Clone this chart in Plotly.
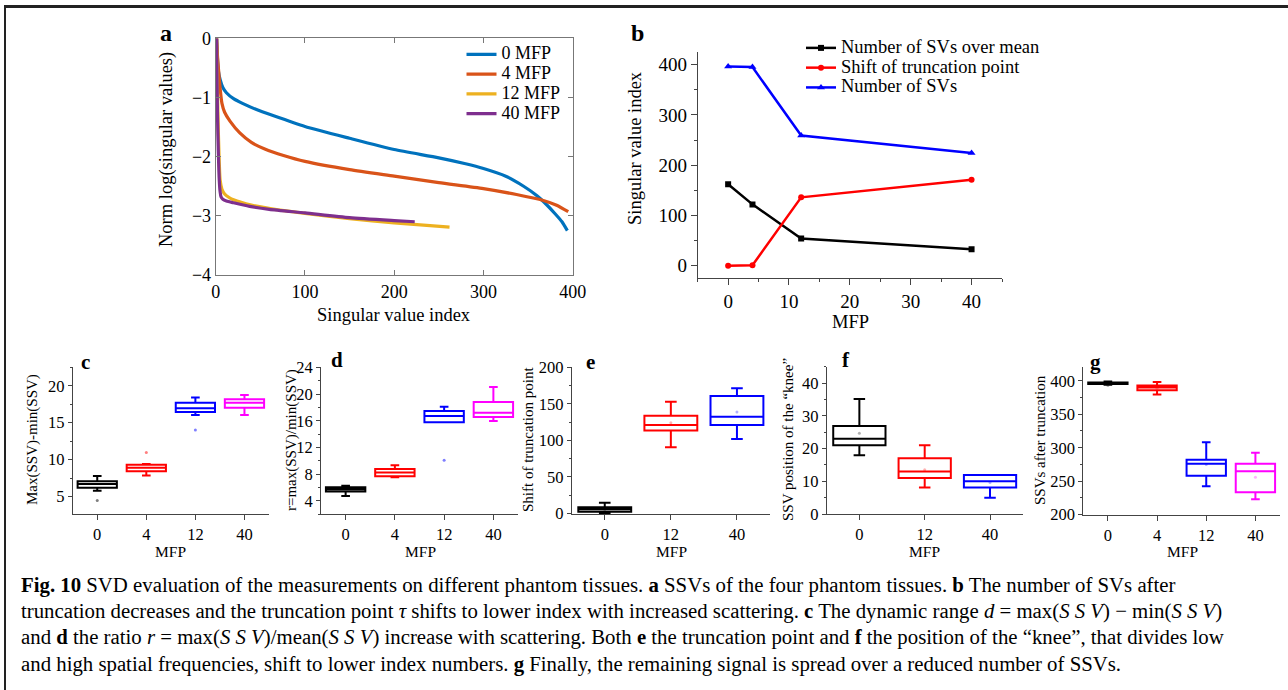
import plotly.graph_objects as go

W, H = 1288, 690
def PX(x): return x / W
def PY(y): return 1 - y / H

FONT = "Liberation Serif"

# ---------------- Panel a data ----------------
a_series = ["0 MFP", "4 MFP", "12 MFP", "40 MFP"]
a_colors = ["#0072BD", "#D95319", "#EDB120", "#7E2F8E"]
a_x0 = [1, 2, 3, 5, 8, 12, 20, 30, 45, 65, 100, 150, 200, 250, 280, 300, 325, 345, 360, 370, 380, 388, 394]
a_y0 = [0, -0.35, -0.55, -0.7, -0.83, -0.92, -1.02, -1.1, -1.2, -1.31, -1.49, -1.69, -1.88, -2.02, -2.12, -2.2, -2.33, -2.5, -2.66, -2.8, -2.96, -3.1, -3.25]
a_x4 = [1, 2, 3, 5, 7, 10, 16, 27, 40, 55, 76, 100, 150, 200, 250, 300, 337, 367, 382, 395]
a_y4 = [0, -0.3, -0.5, -0.85, -1.1, -1.25, -1.4, -1.6, -1.76, -1.87, -1.98, -2.08, -2.22, -2.33, -2.44, -2.54, -2.64, -2.74, -2.82, -2.93]
a_x12 = [1, 2, 3, 4, 5, 7, 10, 15, 20, 40, 70, 100, 150, 200, 262]
a_y12 = [0, -0.9, -1.6, -2.1, -2.4, -2.55, -2.63, -2.69, -2.73, -2.82, -2.9, -2.96, -3.05, -3.12, -3.19]
a_x40 = [1, 2, 3, 4, 5, 6, 8, 12, 20, 38, 60, 100, 150, 200, 223]
a_y40 = [0, -1.3, -1.95, -2.4, -2.6, -2.68, -2.72, -2.75, -2.78, -2.84, -2.89, -2.95, -3.03, -3.08, -3.1]

# ---------------- Panel b data ----------------
b_mfp = [0, 4, 12, 40]
b_over_mean = [162, 122, 54, 33]
b_shift = [0, 1, 136, 171]
b_num_svs = [396, 395, 259, 224]
b_names = ["Number of SVs over mean", "Shift of truncation point", "Number of SVs"]

# ---------------- Box panels data ----------------
c_cats = ["0", "4", "12", "40"]
c_colors = ["black", "#FF0000", "#0000FF", "#FF00FF"]
c_lo = [5.8, 7.84, 16.05, 16.04]
c_q1 = [6.2, 8.43, 16.45, 17.03]
c_med = [6.7, 8.9, 16.95, 17.7]
c_q3 = [7.08, 9.3, 17.7, 18.16]
c_hi = [7.8, 9.42, 18.4, 18.74]
c_out_idx = [0, 1, 2]
c_out_val = [4.46, 10.95, 14.0]

d_cats = ["0", "4", "12", "40"]
d_colors = ["black", "#FF0000", "#0000FF", "#FF00FF"]
d_lo = [4.75, 7.54, 15.77, 15.97]
d_q1 = [5.4, 7.69, 15.77, 16.57]
d_med = [5.75, 8.24, 16.72, 17.2]
d_q3 = [6.05, 8.79, 17.47, 18.8]
d_hi = [6.29, 9.34, 18.1, 21.06]
d_out_idx = [2]
d_out_val = [10.1]

e_cats = ["0", "12", "40"]
e_colors = ["black", "#FF0000", "#0000FF"]
e_lo = [0.0, 90.4, 101.8]
e_q1 = [2.2, 113.6, 120.9]
e_med = [5.5, 120.9, 132.3]
e_q3 = [8.2, 133.6, 160.9]
e_hi = [14.5, 153.0, 171.3]
e_mean = [5.0, 124.0, 139.0]

f_cats = ["0", "12", "40"]
f_colors = ["black", "#FF0000", "#0000FF"]
f_lo = [17.96, 8.06, 5.0]
f_q1 = [21.0, 11.0, 8.06]
f_med = [22.96, 12.96, 10.0]
f_q3 = [26.9, 17.0, 11.9]
f_hi = [35.1, 21.0, 11.9]
f_mean = [24.7, 13.5, 9.6]

g_cats = ["0", "4", "12", "40"]
g_colors = ["black", "#FF0000", "#0000FF", "#FF00FF"]
g_lo = [394, 379.5, 242.5, 223]
g_q1 = [395, 386, 258, 233.5]
g_med = [396, 390, 276, 265]
g_q3 = [397.5, 393, 282, 276]
g_hi = [399, 398, 308, 292.5]
g_mean = [393, 389, 275, 256]

fig = go.Figure()

# ---- Panel a traces
for name, col, xs, ys in zip(a_series, a_colors, [a_x0, a_x4, a_x12, a_x40], [a_y0, a_y4, a_y12, a_y40]):
    fig.add_trace(go.Scatter(x=xs, y=ys, mode="lines", name='<span style="font-size:18px">' + name + '</span>',
                             line=dict(color=col, width=3.2, shape="spline", smoothing=0.6),
                             xaxis="x", yaxis="y", legend="legend"))

# ---- Panel b traces
b_styles = [("black", "square", 6), ("#FF0000", "circle", 6), ("#0000FF", "triangle-up", 7)]
for name, ys, (col, sym, sz) in zip(b_names, [b_over_mean, b_shift, b_num_svs], b_styles):
    fig.add_trace(go.Scatter(x=b_mfp, y=ys, mode="lines+markers", name='<span style="font-size:18.5px">' + name + '</span>',
                             line=dict(color=col, width=2.5), marker=dict(symbol=sym, size=sz, color=col),
                             xaxis="x2", yaxis="y2", legend="legend2"))

def add_boxes(axn, cats, colors, lo, q1, med, q3, hi):
    for i, cat in enumerate(cats):
        fig.add_trace(go.Box(x=[i], lowerfence=[lo[i]], q1=[q1[i]], median=[med[i]], q3=[q3[i]], upperfence=[hi[i]],
                             width=0.8, whiskerwidth=0.22, line=dict(color=colors[i], width=2),
                             fillcolor="rgba(255,255,255,0)", boxpoints=False, name=cat, showlegend=False,
                             xaxis="x" + str(axn), yaxis="y" + str(axn)))

def add_points(axn, idx, vals, colors, size=3, opacity=0.5):
    fig.add_trace(go.Scatter(x=idx, y=vals, mode="markers", showlegend=False,
                             marker=dict(size=size, color=[colors[i] for i in idx], opacity=opacity),
                             xaxis="x" + str(axn), yaxis="y" + str(axn)))

add_boxes(3, c_cats, c_colors, c_lo, c_q1, c_med, c_q3, c_hi)
add_points(3, c_out_idx, c_out_val, c_colors)
add_boxes(4, d_cats, d_colors, d_lo, d_q1, d_med, d_q3, d_hi)
add_points(4, d_out_idx, d_out_val, d_colors)
add_boxes(5, e_cats, e_colors, e_lo, e_q1, e_med, e_q3, e_hi)
add_points(5, list(range(len(e_cats))), e_mean, e_colors, opacity=0.3)
add_boxes(6, f_cats, f_colors, f_lo, f_q1, f_med, f_q3, f_hi)
add_points(6, list(range(len(f_cats))), f_mean, f_colors, opacity=0.3)
add_boxes(7, g_cats, g_colors, g_lo, g_q1, g_med, g_q3, g_hi)
add_points(7, list(range(len(g_cats))), g_mean, g_colors, opacity=0.3)

AX = "#444444"
layout = dict(
    width=W, height=H, margin=dict(l=0, r=0, t=0, b=0, pad=0, autoexpand=False),
    paper_bgcolor="white", plot_bgcolor="white",
    font=dict(family=FONT, color="black", size=16),
    showlegend=True,
)

# Panel a axes
layout["xaxis"] = dict(domain=[PX(215.7), PX(572.7)], range=[0, 400], tickvals=[0, 100, 200, 300, 400],
                       showline=True, linecolor="#777777", linewidth=1, mirror="ticks", ticks="inside", ticklen=5,
                       tickcolor="#777777", showgrid=False, zeroline=False, tickfont=dict(size=18), anchor="y")
layout["yaxis"] = dict(domain=[PY(275), PY(38.3)], range=[-4, 0], tickvals=[0, -1, -2, -3, -4],
                       ticktext=["0", "\u22121", "\u22122", "\u22123", "\u22124"],
                       showline=True, linecolor="#777777", linewidth=1, mirror="ticks", ticks="inside", ticklen=5,
                       tickcolor="#777777", showgrid=False, zeroline=False, tickfont=dict(size=18), anchor="x")

# Panel b axes
layout["xaxis2"] = dict(domain=[PX(697.7), PX(1002)], range=[-5, 45], tickvals=[0, 10, 20, 30, 40],
                        showline=True, linecolor=AX, linewidth=1, ticks="outside", ticklen=6, tickcolor=AX,
                        minor=dict(ticks="outside", ticklen=3, dtick=5, tick0=5, tickcolor=AX),
                        showgrid=False, zeroline=False, tickfont=dict(size=19), anchor="y2")
layout["yaxis2"] = dict(domain=[PY(278.3), PY(52)], range=[-25, 425], tickvals=[0, 100, 200, 300, 400],
                        showline=True, linecolor=AX, linewidth=1, ticks="outside", ticklen=6, tickcolor=AX,
                        minor=dict(ticks="outside", ticklen=3, dtick=50, tick0=50, tickcolor=AX),
                        showgrid=False, zeroline=False, tickfont=dict(size=19), anchor="x2")

def box_axes(n, xl, xr, ytop, ybot, cats, yrange, ymaj, ydt):
    layout["xaxis" + str(n)] = dict(domain=[PX(xl), PX(xr)], range=[-0.5, len(cats) - 0.5],
                                    tickvals=list(range(len(cats))), ticktext=cats,
                                    showline=True, linecolor=AX, linewidth=1, ticks="outside", ticklen=5, tickcolor=AX,
                                    showgrid=False, zeroline=False, tickfont=dict(size=16.5), anchor="y" + str(n))
    layout["yaxis" + str(n)] = dict(domain=[PY(ybot), PY(ytop)], range=yrange, tickvals=ymaj,
                                    showline=True, linecolor=AX, linewidth=1, ticks="outside", ticklen=4, tickcolor=AX,
                                    minor=dict(ticks="outside", ticklen=2, dtick=ydt, tick0=ymaj[0] + ydt, tickcolor=AX),
                                    showgrid=False, zeroline=False, tickfont=dict(size=16.5), anchor="x" + str(n))

box_axes(3, 72.7, 269, 367.3, 514.3, c_cats, [2.6, 22.5], [5, 10, 15, 20], 2.5)
box_axes(4, 321, 518, 367.3, 514.3, d_cats, [2, 24], [4, 8, 12, 16, 20, 24], 2)
box_axes(5, 571.7, 770, 366.7, 514, e_cats, [-1, 201], [0, 50, 100, 150, 200], 25)
box_axes(6, 826.7, 1022.7, 366.7, 514, f_cats, [0, 45], [0, 10, 20, 30, 40], 5)
box_axes(7, 1083.3, 1280, 366.7, 514.7, g_cats, [200, 421], [200, 250, 300, 350, 400], 25)

layout["legend"] = dict(x=PX(461.5), y=PY(39.5), xanchor="left", yanchor="top", bgcolor="rgba(0,0,0,0)",
                        font=dict(size=12.9, family=FONT), tracegroupgap=0, itemwidth=30)
layout["legend2"] = dict(x=PX(801), y=PY(33), xanchor="left", yanchor="top", bgcolor="rgba(0,0,0,0)",
                         font=dict(size=12.9, family=FONT), tracegroupgap=0, itemwidth=30)

ann = []
def A(text, x, y, size, angle=0, xanchor="center", yanchor="middle"):
    ann.append(dict(text=text, x=PX(x), y=PY(y), xref="paper", yref="paper", showarrow=False,
                    font=dict(size=size, family=FONT, color="black"), textangle=angle,
                    xanchor=xanchor, yanchor=yanchor))

# Panel labels
A("<b>a</b>", 166, 33, 24)
A("<b>b</b>", 637, 33, 24)
A("<b>c</b>", 85, 362, 21)
A("<b>d</b>", 337, 360, 21)
A("<b>e</b>", 590, 362, 21)
A("<b>f</b>", 846, 360, 21)
A("<b>g</b>", 1095, 362, 21)

# Axis titles
A("Singular value index", 394, 315, 18.5)
A("Norm log(singular values)", 167, 150, 18.5, angle=-90)
A("MFP", 850, 322, 18.5)
A("Singular value index", 635, 148, 18.5, angle=-90)
A("Max(SSV)-min(SSV)", 33, 440, 15, angle=-90)
A("r=max(SSV)/min(SSV)", 292, 440, 15, angle=-90)
A("Shift of truncation point", 528, 440, 15, angle=-90)
A("SSV position of the \u201cknee\u201d", 788, 440, 15, angle=-90)
A("SSVs after truncation", 1040, 440, 15, angle=-90)
for xc in [171, 420, 671, 925, 1182]:
    A("MFP", xc, 551, 15.5)

# Caption
cap_lines = [
    "<b>Fig. 10</b> SVD evaluation of the measurements on different phantom tissues. <b>a</b> SSVs of the four phantom tissues. <b>b</b> The number of SVs after",
    "truncation decreases and the truncation point <i>\u03c4</i> shifts to lower index with increased scattering. <b>c</b> The dynamic range <i>d</i> = max(<i>S S V</i>) \u2212 min(<i>S S V</i>)",
    "and <b>d</b> the ratio <i>r</i> = max(<i>S S V</i>)/mean(<i>S S V</i>) increase with scattering. Both <b>e</b> the truncation point and <b>f</b> the position of the \u201cknee\u201d, that divides low",
    "and high spatial frequencies, shift to lower index numbers. <b>g</b> Finally, the remaining signal is spread over a reduced number of SSVs.",
]
for i, line in enumerate(cap_lines):
    A(line, 19, 585 + 26.2 * i, 20.8, xanchor="left")

layout["annotations"] = ann
layout["shapes"] = [
    dict(type="line", xref="paper", yref="paper", x0=PX(4), x1=PX(1295), y0=PY(6.5), y1=PY(6.5),
         line=dict(color="#222222", width=3)),
    dict(type="line", xref="paper", yref="paper", x0=PX(5), x1=PX(5), y0=PY(5), y1=PY(700),
         line=dict(color="#222222", width=2)),
]

fig.update_layout(**layout)
fig.write_html("out.html", config={"displayModeBar": False},
               post_script="document.body.style.margin='0';document.body.style.padding='0';document.body.style.overflow='hidden';")
